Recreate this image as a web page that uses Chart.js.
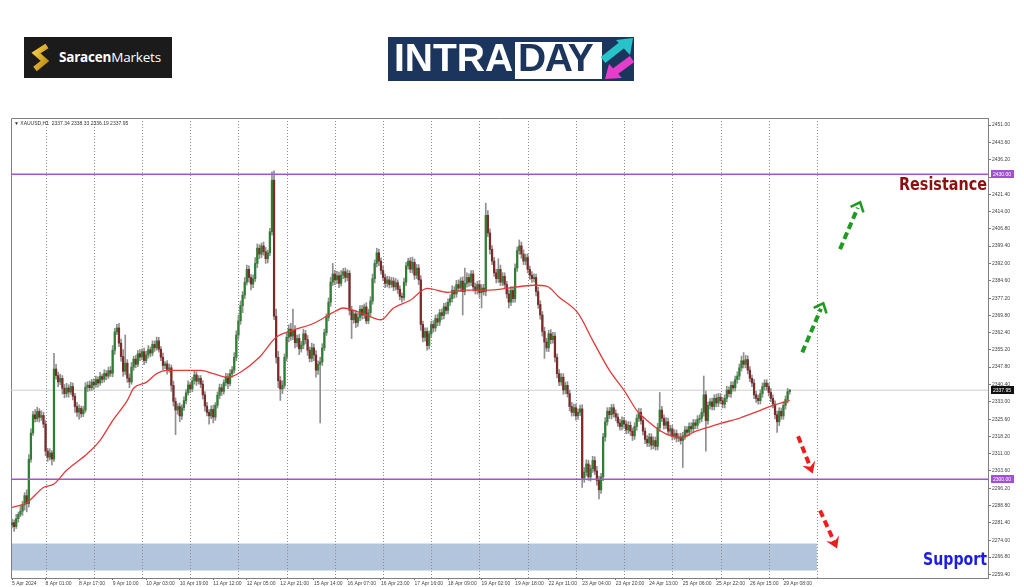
<!DOCTYPE html>
<html><head><meta charset="utf-8">
<script src="https://cdn.jsdelivr.net/npm/chart.js@4.4.1/dist/chart.umd.min.js"></script>
<style>
html,body{margin:0;padding:0;background:#fff;width:1024px;height:587px;overflow:hidden;position:relative;font-family:"Liberation Sans",Arial,sans-serif}
#c{position:absolute;left:0;top:0}
.abs{position:absolute;white-space:nowrap}
</style></head><body>
<canvas id="c" width="1024" height="587"></canvas>

<div class="abs" style="left:24px;top:37px;width:148px;height:41px;background:#1b1b1b">
  <svg class="abs" style="left:7px;top:7px" width="20" height="28" viewBox="0 0 20 28">
    <defs><linearGradient id="g" x1="0" y1="0" x2="1" y2="1"><stop offset="0" stop-color="#f7cf4a"/><stop offset="1" stop-color="#b8860b"/></linearGradient></defs>
    <polyline points="16,2 5,9 14,17 4,25" fill="none" stroke="url(#g)" stroke-width="5.5" stroke-linejoin="miter"/>
  </svg>
  <div class="abs" style="left:35px;top:11px;font:700 13.5px 'Open Sans';color:#fff;letter-spacing:-0.2px">Saracen<span style="font-weight:400">Markets</span></div>
</div>

<div class="abs" style="left:388px;top:37px;width:246px;height:44px;background:#1c355c">
  <div class="abs" style="left:6px;top:-1px;font:700 39px 'Liberation Sans';color:#fff;line-height:44px">INTRA</div>
  <div class="abs" style="left:127px;top:5px;width:87px;height:37px;background:#fff"></div>
  <div class="abs" style="left:130px;top:-1px;font:700 39px 'Liberation Sans';color:#1c355c;line-height:44px;letter-spacing:-1.5px">DAY</div>
  <svg class="abs" style="left:212px;top:0" width="34" height="44" viewBox="0 0 34 44">
    <line x1="3" y1="23" x2="22" y2="8" stroke="#28c3c8" stroke-width="7.5"/>
    <polygon points="33,1 16,3 30,18" fill="#28c3c8"/>
    <line x1="32" y1="22" x2="13" y2="36" stroke="#e63ecb" stroke-width="7.5"/>
    <polygon points="5,42 22,41 9,27" fill="#e63ecb"/>
  </svg>
</div>

<div id="res" class="abs" style="left:899px;top:174px;font:700 17px 'DejaVu Sans';color:#8c1010;transform-origin:0 0">Resistance</div>
<div id="sup" class="abs" style="left:923px;top:549px;font:700 17px 'DejaVu Sans';color:#1c1ce0;transform-origin:0 0">Support</div>

<script>
// ---- data (XAUUSD H1) ----
const firstOpen = 2280.5;
const closes = [
2281.5,2279.8,2283.2,2285.0,2286.4,2289.1,2293.0,2289.6,2308.5,2319.7,
2327.5,2325.8,2328.9,2326.4,2327.2,2323.5,2312.0,2309.4,2311.2,2308.6,
2347.0,2344.2,2341.5,2343.0,2338.8,2336.5,2338.9,2337.2,2339.5,2335.4,
2331.0,2328.6,2330.2,2327.9,2329.5,2339.2,2340.1,2339.0,2341.4,2340.3,
2342.5,2341.0,2343.8,2342.6,2345.1,2344.0,2346.3,2345.2,2355.0,2362.8,
2364.5,2358.0,2352.3,2346.0,2349.5,2343.1,2341.5,2347.8,2351.2,2349.0,
2353.5,2352.1,2354.4,2350.6,2353.0,2355.2,2353.8,2357.5,2356.0,2359.0,
2355.4,2352.0,2348.5,2349.2,2346.8,2347.5,2340.0,2333.2,2329.5,2331.0,
2327.0,2330.5,2333.5,2336.8,2340.2,2338.5,2342.0,2344.5,2341.8,2343.0,
2340.5,2336.0,2331.2,2328.5,2327.0,2329.8,2326.5,2331.5,2335.8,2339.0,
2337.5,2341.2,2343.6,2340.8,2345.0,2346.5,2352.0,2361.5,2367.5,2374.0,
2378.5,2384.0,2389.5,2386.0,2383.2,2385.5,2392.0,2398.5,2396.0,2399.5,
2397.0,2394.0,2396.5,2405.5,2427.5,2369.5,2352.0,2342.0,2338.5,2340.0,
2352.0,2360.5,2364.0,2361.0,2363.5,2358.2,2360.0,2355.6,2357.2,2362.0,
2359.5,2355.0,2351.5,2356.0,2353.0,2346.5,2349.0,2350.0,2356.0,2362.5,
2369.0,2375.5,2384.0,2387.5,2385.0,2386.8,2383.5,2387.0,2388.5,2386.0,
2387.8,2372.0,2368.0,2370.5,2366.8,2369.0,2372.5,2370.0,2373.5,2367.5,
2371.0,2376.0,2385.5,2392.0,2396.5,2393.0,2389.0,2386.0,2383.5,2385.0,
2383.0,2384.5,2382.0,2383.8,2381.0,2378.0,2377.5,2384.0,2391.0,2393.0,
2389.5,2392.5,2387.0,2390.0,2385.0,2366.0,2360.5,2363.0,2357.0,2362.0,
2366.0,2364.5,2368.5,2367.0,2371.0,2369.8,2373.5,2372.0,2375.5,2377.0,
2380.5,2379.0,2383.0,2381.5,2384.5,2380.0,2383.5,2386.0,2384.0,2387.5,
2382.0,2380.5,2383.0,2379.5,2381.5,2380.0,2412.5,2405.0,2398.0,2393.0,
2388.0,2385.5,2389.5,2384.0,2386.5,2383.0,2379.0,2375.5,2380.5,2377.0,
2390.0,2397.5,2399.5,2396.0,2393.0,2394.5,2389.5,2387.0,2385.5,2386.0,
2380.0,2374.5,2370.0,2363.0,2358.5,2356.0,2362.0,2359.5,2361.0,2352.0,
2345.0,2341.5,2343.5,2338.0,2340.0,2336.5,2331.0,2328.5,2330.5,2327.0,
2328.5,2330.0,2300.5,2303.0,2306.5,2301.0,2304.5,2308.0,2303.5,2299.5,
2295.5,2301.0,2318.0,2324.5,2329.0,2327.5,2330.5,2328.0,2326.5,2324.0,
2322.5,2325.0,2323.5,2321.0,2323.0,2320.5,2318.5,2322.5,2326.0,2328.5,
2325.0,2320.5,2317.0,2315.5,2318.0,2314.5,2316.5,2314.0,2322.0,2329.5,
2326.0,2323.0,2324.5,2320.5,2321.5,2318.5,2319.5,2317.5,2318.0,2316.5,
2318.5,2321.0,2320.0,2322.5,2321.5,2324.0,2323.0,2325.5,2326.0,2328.5,
2336.0,2325.0,2331.5,2333.0,2331.0,2334.5,2332.5,2335.0,2333.5,2332.0,
2334.5,2338.0,2336.5,2340.0,2339.0,2342.5,2344.0,2347.5,2350.5,2349.0,
2351.0,2346.5,2343.0,2341.0,2336.0,2334.5,2333.5,2336.5,2339.5,2341.0,
2339.5,2337.0,2334.5,2332.0,2327.5,2324.5,2329.0,2327.0,2331.5,2334.0,
2337.34,2337.95];
const wickUp = [
1.5,1.2,1.8,1.0,2.2,1.5,1.3,2.5,2.0,1.8,
1.5,2.2,1.8,1.2,2.0,1.4,1.5,1.2,1.8,1.0,
6.7,2.0,1.5,1.8,1.2,1.6,2.0,1.4,1.8,1.5,
1.2,1.8,1.5,1.0,1.6,2.0,1.5,1.8,1.2,1.4,
1.5,1.2,1.8,1.0,1.6,1.3,1.5,1.8,2.0,1.5,
1.5,2.0,1.8,3.0,12.0,1.5,1.8,2.0,1.2,1.6,
1.4,1.8,1.2,1.5,1.6,1.8,1.2,1.5,1.4,1.6,
1.5,1.2,1.8,1.0,1.4,1.6,1.2,1.8,1.5,1.2,
1.5,1.2,1.6,1.4,1.8,1.2,1.5,1.6,1.4,1.2,
1.2,1.5,1.4,1.6,1.2,1.5,1.8,1.2,1.4,1.6,
1.5,1.2,1.6,1.4,1.8,1.5,2.0,1.8,2.5,2.0,
1.5,2.0,1.8,1.5,1.2,1.6,2.5,1.8,1.5,1.2,
1.6,1.8,1.2,1.5,3.5,4.0,3.0,2.5,1.8,2.0,
1.5,2.0,1.8,2.5,9.0,2.0,1.5,1.8,1.6,2.0,
1.5,1.8,1.4,2.0,1.6,1.8,1.5,2.0,1.8,1.5,
1.5,1.8,2.0,4.5,1.6,1.8,1.5,2.0,1.4,1.6,
1.5,1.2,1.8,1.6,1.4,1.8,1.5,1.6,1.2,1.8,
1.5,1.8,2.0,1.5,2.0,1.6,1.4,1.8,1.5,1.6,
1.4,1.6,1.5,1.8,1.2,1.5,1.4,1.8,1.5,1.2,
1.5,2.2,1.4,1.6,1.5,1.8,1.4,1.5,1.6,1.2,
1.4,1.6,1.5,1.8,1.4,1.6,1.5,1.8,1.4,1.6,
2.0,1.6,1.8,2.0,1.5,1.8,6.5,2.0,1.6,1.5,
1.5,1.6,1.4,1.8,1.5,1.6,5.2,2.0,1.8,1.6,
1.6,1.5,4.5,1.8,1.6,1.5,1.4,1.8,1.6,1.5,
1.8,1.5,2.5,1.6,1.8,1.5,1.6,1.4,1.5,1.6,
1.5,1.8,1.6,1.5,1.8,1.6,1.5,1.8,1.6,1.5,
1.5,1.8,1.6,1.5,1.4,1.6,1.5,1.8,1.6,1.5,
1.5,1.6,1.8,2.0,1.8,1.6,1.5,1.8,1.6,2.0,
1.8,1.5,1.6,1.8,1.5,1.6,1.4,1.5,1.6,1.5,
1.5,1.6,1.4,1.5,1.6,1.5,1.4,1.6,1.5,1.8,
1.6,1.5,1.4,1.6,1.5,1.4,1.6,1.5,1.8,7.5,
1.6,1.5,1.8,1.6,1.5,1.4,1.6,1.5,1.4,1.6,
1.5,1.6,1.4,1.5,1.6,1.5,1.4,1.6,1.5,1.6,
8.0,1.6,1.5,1.4,1.6,1.5,1.8,1.6,1.5,1.4,
1.5,1.6,1.4,1.5,1.6,1.5,1.8,1.6,2.0,3.5,
1.8,1.6,1.5,1.4,1.6,1.5,1.4,1.6,1.5,1.4,
1.5,1.4,1.6,1.5,1.4,1.6,1.5,1.4,1.6,1.5,
1.4,0.38];
const wickDown = [
1.2,2.0,0.8,1.5,1.0,1.8,2.2,3.5,1.5,1.2,
1.0,1.5,1.2,2.0,1.3,1.5,2.0,1.8,1.2,2.5,
1.0,1.5,2.0,1.2,2.5,1.8,1.5,2.2,1.0,1.6,
2.5,1.8,3.0,1.5,1.2,1.0,1.8,1.4,1.2,2.0,
1.2,1.8,1.0,1.5,1.2,1.6,1.0,1.4,1.5,1.8,
1.2,1.5,2.0,2.2,1.5,1.8,2.5,1.0,1.4,1.5,
1.0,1.5,1.2,1.8,1.0,1.4,1.6,1.2,1.5,1.0,
1.2,1.5,1.8,1.4,2.0,1.2,2.5,2.0,10.5,1.8,
2.5,1.5,1.2,1.4,1.0,1.6,1.2,1.5,1.8,1.2,
1.5,1.8,2.2,1.5,3.5,1.2,2.5,1.4,1.2,1.5,
1.8,1.2,1.4,2.2,1.0,1.5,1.2,1.5,1.8,1.5,
3.0,1.5,1.2,2.0,2.5,1.5,1.2,1.8,2.0,1.5,
1.5,2.0,1.8,1.2,1.5,1.5,2.5,3.0,4.9,2.0,
1.2,1.5,2.0,1.8,1.5,2.2,1.8,2.5,1.4,1.6,
1.8,2.2,1.5,1.4,2.5,3.0,1.8,25.0,1.5,1.2,
1.2,1.5,1.8,1.4,2.0,1.6,1.8,1.2,1.5,2.0,
1.4,2.0,8.0,1.5,2.2,1.6,1.4,1.8,1.5,1.2,
1.2,1.5,1.4,1.8,1.5,2.0,1.6,1.4,1.8,1.5,
1.5,1.2,1.6,1.4,1.8,1.5,2.0,1.2,1.5,1.4,
1.4,1.6,1.8,1.5,2.0,2.5,2.0,1.6,2.0,1.5,
1.5,1.8,1.4,1.6,1.5,1.8,1.4,1.6,1.5,1.4,
1.5,1.8,1.4,1.6,1.5,10.0,1.4,1.6,1.8,1.5,
1.8,1.5,1.6,2.0,6.5,1.5,1.8,1.6,2.0,1.5,
1.5,1.8,1.6,1.4,1.5,1.6,1.8,2.5,1.5,1.6,
1.5,1.4,1.6,1.8,1.5,1.6,1.5,1.8,1.6,1.4,
1.8,1.6,1.8,2.0,7.0,1.5,1.6,1.8,1.5,2.0,
1.8,1.6,1.5,1.8,1.6,1.5,1.8,1.6,1.5,1.8,
1.5,1.4,4.0,1.8,1.6,1.5,1.8,1.6,1.5,2.0,
3.9,1.5,1.6,1.8,1.5,1.6,1.8,1.5,1.6,1.4,
1.6,1.5,1.8,1.6,1.5,1.8,2.0,1.5,1.6,1.4,
1.5,1.6,1.8,1.5,1.6,1.8,1.5,1.6,1.5,1.6,
1.5,1.6,1.4,1.5,1.6,1.8,1.5,1.6,1.5,1.6,
11.5,1.5,1.6,1.4,1.5,1.6,1.5,1.4,1.6,1.5,
1.6,13.0,1.5,1.6,1.4,1.5,1.6,1.5,1.4,1.6,
1.6,1.5,1.4,1.6,1.5,1.4,1.6,1.5,1.4,1.6,
1.5,1.6,1.4,1.5,1.6,1.8,1.5,1.4,1.6,1.5,
1.6,1.5,1.4,1.6,1.8,4.5,1.6,1.5,1.4,1.6,
1.5,1.15];

// moving average (red line), read at bar indices
const maIdx  = [0,7,15,20,26,36,42,48,55,58,64,69,74,83,90,96,103,109,118,126,134,144,153,158,163,169,176,182,190,198,208,217,227,236,249,255,261,270,277,285,292,298,303,309,315,320,325,332,338,347,357,363,371];
const maVals = [2288,2290,2296.5,2298,2303.8,2311,2316.6,2325,2333.6,2338.8,2341.3,2345,2346.4,2346.4,2346.4,2345,2343.4,2345.6,2352,2360.5,2363.5,2366.5,2371,2373,2372,2370,2368,2373,2376.3,2381.4,2379.7,2380.6,2380.6,2381.4,2382.7,2382.3,2377.6,2370.8,2359.2,2346.4,2337.9,2329.4,2325,2320.8,2318.3,2317.8,2320,2322.1,2323.8,2326,2329.4,2331.5,2333.6];

const xTickLabels = ['5 Apr 2024','8 Apr 01:00','8 Apr 17:00','9 Apr 10:00','10 Apr 03:00','10 Apr 19:00','11 Apr 12:00','12 Apr 05:00','12 Apr 21:00','15 Apr 14:00','16 Apr 07:00','16 Apr 23:00','17 Apr 16:00','18 Apr 09:00','19 Apr 02:00','19 Apr 18:00','22 Apr 11:00','23 Apr 04:00','23 Apr 20:00','24 Apr 13:00','25 Apr 06:00','25 Apr 22:00','26 Apr 15:00','29 Apr 08:00'];
const barsPerLabel = 16;
const yTickLabels = ['2451.00','2443.60','2436.20','2428.80','2421.40','2414.00','2406.80','2399.40','2392.00','2384.60','2377.20','2369.80','2362.40','2355.20','2347.80','2340.40','2333.00','2325.60','2318.20','2311.00','2303.60','2296.20','2288.80','2281.40','2274.00','2266.80','2259.40'];
const dayStarts = [16,39,62,85,108,131,154,177,200,223,246,269,292,315,338,361,384];

const resistanceLevel = 2430.00;
const supportLevel = 2300.00;
const lastPrice = 2337.95;
const supportZone = [2261.1, 2272.6];
const zoneEndIdx = 384;
const headerText = '\u25BC XAUUSD,H1  2337.34 2338.33 2336.19 2337.95';
// arrows: [fromIdx, fromPrice, toIdx, toPrice]
const greenArrows = [[377,2354.1,387,2375.0],[395,2398.1,404.6,2418.1]];
const redArrows   = [[375,2318.3,382,2302.5],[385.5,2286.7,393.6,2270.5]];

const X_MIN = -0.5, X_MAX = 465.6, Y_MIN = 2257.9, Y_MAX = 2454.0;

// ---- build library tables ----
const opens = closes.map((c,i)=> i===0 ? firstOpen : closes[i-1]);
const bodyData = closes.map((c,i)=>({x:i, y:[opens[i], c]}));
const wickData = closes.map((c,i)=>({x:i, y:[Math.min(opens[i],c)-wickDown[i], Math.max(opens[i],c)+wickUp[i]]}));
const bodyColors = closes.map((c,i)=> c>=opens[i] ? '#2f7f33' : '#7d2a2a');
const maData = maIdx.map((x,k)=>({x, y:maVals[k]}));
const hline = v => [{x:X_MIN,y:v},{x:X_MAX,y:v}];

function drawArrow(ctx,x0,y0,x1,y1,color,open){
  const ang=Math.atan2(y1-y0,x1-x0), len=Math.hypot(x1-x0,y1-y0);
  ctx.save(); ctx.translate(x0,y0); ctx.rotate(ang);
  ctx.strokeStyle=color; ctx.fillStyle=color; ctx.lineWidth=4; ctx.setLineDash([7,4]);
  ctx.beginPath(); ctx.moveTo(0,0); ctx.lineTo(len-6,0); ctx.stroke();
  ctx.setLineDash([]);
  if(open){ ctx.lineWidth=2.6; ctx.beginPath(); ctx.moveTo(len-8,-7); ctx.lineTo(len,0); ctx.lineTo(len-8,7); ctx.stroke(); }
  else { ctx.beginPath(); ctx.moveTo(len,0); ctx.lineTo(len-11,-7); ctx.lineTo(len-7,0); ctx.lineTo(len-11,7); ctx.closePath(); ctx.fill(); }
  ctx.restore();
}

const overlay = {
  id:'overlay',
  beforeDatasetsDraw(chart){
    const {ctx, chartArea:a, scales:{x,y}} = chart;
    ctx.save();
    const zx1 = x.getPixelForValue(zoneEndIdx);
    const zy0 = y.getPixelForValue(supportZone[1]), zy1 = y.getPixelForValue(supportZone[0]);
    ctx.fillStyle='#b3c5dd'; ctx.fillRect(a.left, zy0, zx1-a.left, zy1-zy0);
    ctx.strokeStyle='#8c8c8c'; ctx.lineWidth=1; ctx.setLineDash([1,2]);
    dayStarts.forEach(i=>{ const px=Math.round(x.getPixelForValue(i))+0.5; ctx.beginPath(); ctx.moveTo(px,a.top); ctx.lineTo(px,a.bottom); ctx.stroke(); });
    ctx.setLineDash([]);
    ctx.strokeStyle='#808080';
    ctx.beginPath(); ctx.moveTo(a.left+0.5,a.bottom); ctx.lineTo(a.left+0.5,a.top+0.5); ctx.lineTo(a.right,a.top+0.5); ctx.stroke();
    ctx.restore();
  },
  afterDatasetsDraw(chart){
    const {ctx, chartArea:a, scales:{x,y}} = chart;
    ctx.save();
    greenArrows.forEach(r=>drawArrow(ctx,x.getPixelForValue(r[0]),y.getPixelForValue(r[1]),x.getPixelForValue(r[2]),y.getPixelForValue(r[3]),'#1f9a22',true));
    redArrows.forEach(r=>drawArrow(ctx,x.getPixelForValue(r[0]),y.getPixelForValue(r[1]),x.getPixelForValue(r[2]),y.getPixelForValue(r[3]),'#ee1d1d',false));
    const tag=(v,bg,fg)=>{ const py=Math.round(y.getPixelForValue(v)); ctx.fillStyle=bg; ctx.fillRect(a.right+3,py-4,23,8); ctx.fillStyle=fg; ctx.font='5px "Liberation Sans"'; ctx.textBaseline='middle'; ctx.textAlign='left'; ctx.fillText(v.toFixed(2),a.right+5,py+0.5); };
    tag(resistanceLevel,'#a24fd8','#fff');
    tag(supportLevel,'#a24fd8','#fff');
    tag(lastPrice,'#111','#fff');
    ctx.fillStyle='#333'; ctx.font='5px "Liberation Sans"'; ctx.textBaseline='middle'; ctx.textAlign='left';
    ctx.fillText(headerText, a.left+3, a.top+6);
    ctx.restore();
  }
};

const tickFont = {family:'Liberation Sans', size:5};
new Chart(document.getElementById('c'), {
  type:'bar',
  data:{datasets:[
    {type:'line', data:maData, borderColor:'#e23a3a', borderWidth:1.3, pointRadius:0, tension:0.4, cubicInterpolationMode:'monotone', order:0},
    {type:'line', data:hline(resistanceLevel), borderColor:'#a452d6', borderWidth:1.5, pointRadius:0, order:1},
    {type:'line', data:hline(supportLevel), borderColor:'#a452d6', borderWidth:1.5, pointRadius:0, order:1},
    {type:'bar', data:bodyData, backgroundColor:bodyColors, barThickness:1.6, grouped:false, minBarLength:1, order:2},
    {type:'bar', data:wickData, backgroundColor:'#8f8f8f', barThickness:1, grouped:false, order:3},
    {type:'line', data:hline(lastPrice), borderColor:'#cfcfcf', borderWidth:1, pointRadius:0, order:4}
  ]},
  options:{
    responsive:false, animation:false, devicePixelRatio:1,
    layout:{padding:{left:11, top:118, right:0, bottom:0}},
    plugins:{legend:{display:false}, tooltip:{enabled:false}},
    scales:{
      x:{type:'linear', min:X_MIN, max:X_MAX, offset:false,
        afterBuildTicks:s=>{ s.ticks = xTickLabels.map((l,k)=>({value:k*barsPerLabel})); },
        afterFit:s=>{ s.height = 9; },
        ticks:{autoSkip:false, maxRotation:0, minRotation:0, align:'start', padding:1, font:tickFont, color:'#444', callback:(v,i)=>xTickLabels[i]},
        grid:{drawOnChartArea:false, offset:false, tickLength:2, color:'#777'},
        border:{display:true, color:'#808080'}
      },
      y:{type:'linear', position:'right', min:Y_MIN, max:Y_MAX,
        afterBuildTicks:s=>{ s.ticks = yTickLabels.map(l=>({value:parseFloat(l)})); },
        afterFit:s=>{ s.width = 36; },
        ticks:{autoSkip:false, padding:1, font:tickFont, color:'#444', callback:(v,i)=>yTickLabels[i]},
        grid:{drawOnChartArea:false, tickLength:3, color:'#777'},
        border:{display:true, color:'#808080'}
      }
    }
  },
  plugins:[overlay]
});

// fit annotation labels to their measured widths in the reference
[['res',88],['sup',64]].forEach(([id,w])=>{ const el=document.getElementById(id); const cw=el.getBoundingClientRect().width; el.style.transform='scaleX('+(w/cw)+')'; });
</script>
</body></html>
